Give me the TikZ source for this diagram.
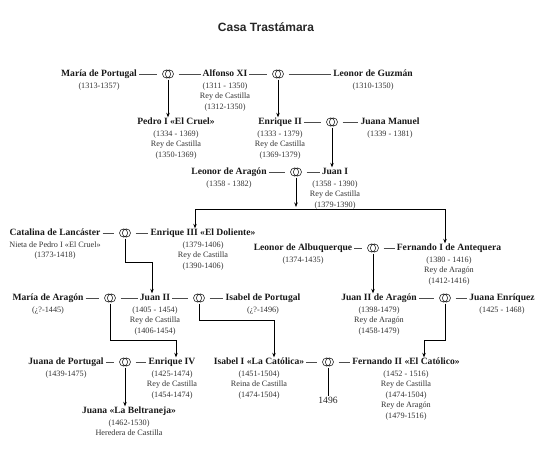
\documentclass[tikz,border=0pt]{standalone}
\usepackage{fontspec}
\setmainfont{Liberation Serif}
\newfontfamily\ttlfnt{Liberation Sans}
\usetikzlibrary{arrows.meta}
\newcommand\nmfnt{\fontsize{9.6}{11}\selectfont\bfseries}
\newcommand\sbfnt{\fontsize{8.2}{10.5}\selectfont}
\begin{document}
\begin{tikzpicture}[x=1pt,y=-1pt,
  nm/.style={font=\nmfnt, text=black!90, inner xsep=2pt, inner ysep=0pt, text height=7pt, text depth=2pt},
  sub/.style={font=\sbfnt, text=black!80, align=center, inner sep=0pt, anchor=north},
  ring/.style={rectangle, minimum width=21pt, minimum height=11pt, inner sep=0pt,
    path picture={\draw[line width=0.6pt, black!85]
      ([xshift=-1.4pt]path picture bounding box.center) circle (4.1pt)
      ([xshift=1.4pt]path picture bounding box.center) circle (4.1pt);}},
  mline/.style={draw=black!70, line width=0.6pt},
  arr/.style={draw=black, line width=0.6pt, -{Stealth[length=4.5pt,width=3.5pt]}},
  plain/.style={draw=black, line width=0.6pt}
]
\useasboundingbox (0,0) rectangle (540,456);
\node[font=\ttlfnt\fontsize{12}{14}\selectfont\bfseries, text=black!85] (title) at (266,27) {Casa Trastámara};

% Row 1
\node[nm] (mariaP) at (99,74) {María de Portugal};
\node[sub] (mariaP-d) at ([yshift=-3.8pt]mariaP.south) {(1313-1357)};
\node[ring] (rA) at (168,74) {};
\node[nm] (alfonso) at (225,74) {Alfonso XI};
\node[sub] (alfonso-d) at ([yshift=-3.8pt]alfonso.south) {(1311 - 1350)\\Rey de Castilla\\(1312-1350)};
\node[ring] (rB) at (278,74) {};
\node[nm] (leonorG) at (373,74) {Leonor de Guzmán};
\node[sub] (leonorG-d) at ([yshift=-3.8pt]leonorG.south) {(1310-1350)};

% Row 2
\node[nm] (pedro) at (176,122) {Pedro I «El Cruel»};
\node[sub] (pedro-d) at ([yshift=-3.8pt]pedro.south) {(1334 - 1369)\\Rey de Castilla\\(1350-1369)};
\node[nm] (enrique2) at (280,122) {Enrique II};
\node[sub] (enrique2-d) at ([yshift=-3.8pt]enrique2.south) {(1333 - 1379)\\Rey de Castilla\\(1369-1379)};
\node[ring] (rC) at (332,122) {};
\node[nm] (juanaM) at (390,122) {Juana Manuel};
\node[sub] (juanaM-d) at ([yshift=-3.8pt]juanaM.south) {(1339 - 1381)};

% Row 3
\node[nm] (leonorA) at (229,172) {Leonor de Aragón};
\node[sub] (leonorA-d) at ([yshift=-3.8pt]leonorA.south) {(1358 - 1382)};
\node[ring] (rD) at (296,172) {};
\node[nm] (juan1) at (335,172) {Juan I};
\node[sub] (juan1-d) at ([yshift=-3.8pt]juan1.south) {(1358 - 1390)\\Rey de Castilla\\(1379-1390)};

% Row 4
\node[nm] (catalina) at (55,233) {Catalina de Lancáster};
\node[sub] (catalina-d) at ([yshift=-3.8pt]catalina.south) {Nieta de Pedro I «El Cruel»\\(1373-1418)};
\node[ring] (rE) at (125,233) {};
\node[nm] (enrique3) at (203,233) {Enrique III «El Doliente»};
\node[sub] (enrique3-d) at ([yshift=-3.8pt]enrique3.south) {(1379-1406)\\Rey de Castilla\\(1390-1406)};

\node[nm] (leonorAlb) at (303,248) {Leonor de Albuquerque};
\node[sub] (leonorAlb-d) at ([yshift=-3.8pt]leonorAlb.south) {(1374-1435)};
\node[ring] (rF) at (373,248) {};
\node[nm] (fernando1) at (449,248) {Fernando I de Antequera};
\node[sub] (fernando1-d) at ([yshift=-3.8pt]fernando1.south) {(1380 - 1416)\\Rey de Aragón\\(1412-1416)};

% Row 5
\node[nm] (mariaA) at (48,298) {María de Aragón};
\node[sub] (mariaA-d) at ([yshift=-3.8pt]mariaA.south) {(¿?-1445)};
\node[ring] (rG) at (110,298) {};
\node[nm] (juan2) at (155,298) {Juan II};
\node[sub] (juan2-d) at ([yshift=-3.8pt]juan2.south) {(1405 - 1454)\\Rey de Castilla\\(1406-1454)};
\node[ring] (rH) at (199,298) {};
\node[nm] (isabelP) at (263,298) {Isabel de Portugal};
\node[sub] (isabelP-d) at ([yshift=-3.8pt]isabelP.south) {(¿?-1496)};

\node[nm] (juan2A) at (379,298) {Juan II de Aragón};
\node[sub] (juan2A-d) at ([yshift=-3.8pt]juan2A.south) {(1398-1479)\\Rey de Aragón\\(1458-1479)};
\node[ring] (rI) at (445,298) {};
\node[nm] (juanaE) at (502,298) {Juana Enríquez};
\node[sub] (juanaE-d) at ([yshift=-3.8pt]juanaE.south) {(1425 - 1468)};

% Row 6
\node[nm] (juanaP) at (66,362) {Juana de Portugal};
\node[sub] (juanaP-d) at ([yshift=-3.8pt]juanaP.south) {(1439-1475)};
\node[ring] (rJ) at (125,362) {};
\node[nm] (enrique4) at (172,362) {Enrique IV};
\node[sub] (enrique4-d) at ([yshift=-3.8pt]enrique4.south) {(1425-1474)\\Rey de Castilla\\(1454-1474)};

\node[nm] (isabel1) at (259,362) {Isabel I «La Católica»};
\node[sub] (isabel1-d) at ([yshift=-3.8pt]isabel1.south) {(1451-1504)\\Reina de Castilla\\(1474-1504)};
\node[ring] (rK) at (328,362) {};
\node[nm] (fernando2) at (406,362) {Fernando II «El Católico»};
\node[sub] (fernando2-d) at ([yshift=-3.8pt]fernando2.south) {(1452 - 1516)\\Rey de Castilla\\(1474-1504)\\Rey de Aragón\\(1479-1516)};

\node[font=\fontsize{9.6}{11}\selectfont, text=black!85, inner sep=1pt] (y1496) at (328,400) {1496};

% Row 7
\node[nm] (beltraneja) at (129,411) {Juana «La Beltraneja»};
\node[sub] (beltraneja-d) at ([yshift=-3.8pt]beltraneja.south) {(1462-1530)\\Heredera de Castilla};

% marriage lines
\foreach \a/\r/\b in {mariaP/rA/alfonso, alfonso/rB/leonorG, enrique2/rC/juanaM,
  leonorA/rD/juan1, catalina/rE/enrique3, leonorAlb/rF/fernando1, mariaA/rG/juan2,
  juan2/rH/isabelP, juan2A/rI/juanaE, juanaP/rJ/enrique4, isabel1/rK/fernando2}{
  \draw[mline] (\r.west -| \a.east) -- (\r.west);
  \draw[mline] (\r.east) -- (\r.east -| \b.west);
}

% descent
\draw[arr] (rA) -- (rA |- pedro.north);
\draw[arr] (rB) -- (rB |- enrique2.north);
\draw[arr] (rC) -- (rC |- juan1.north);
\coordinate (barL) at (195,209);
\coordinate (barR) at (445,209);
\coordinate (barD) at (296,207);
\draw[arr] (rD) -- (barD);
\draw[arr] (barL) -- (barL |- enrique3.north);
\draw[arr] (barL) -- (barR) -- (barR |- fernando1.north);
\coordinate (eJ2) at (125,262);
\draw[arr] (rE) -- (eJ2) -| ([xshift=-3pt]juan2.north);
\draw[arr] (rF) -- (rF |- juan2A.north);
\coordinate (eE4) at (110,340);
\draw[arr] (rG) -- (eE4) -| ([xshift=4pt]enrique4.north);
\coordinate (eI1) at (199,320);
\draw[arr] (rH) -- (eI1) -| ([xshift=15pt]isabel1.north);
\coordinate (eF2) at (445,340);
\draw[arr] (rI) -- (eF2) -| ([xshift=18pt]fernando2.north);
\draw[arr] (rJ) -- (rJ |- beltraneja.north);
\draw[plain] (rK) -- (rK |- y1496.north);
\end{tikzpicture}
\end{document}
